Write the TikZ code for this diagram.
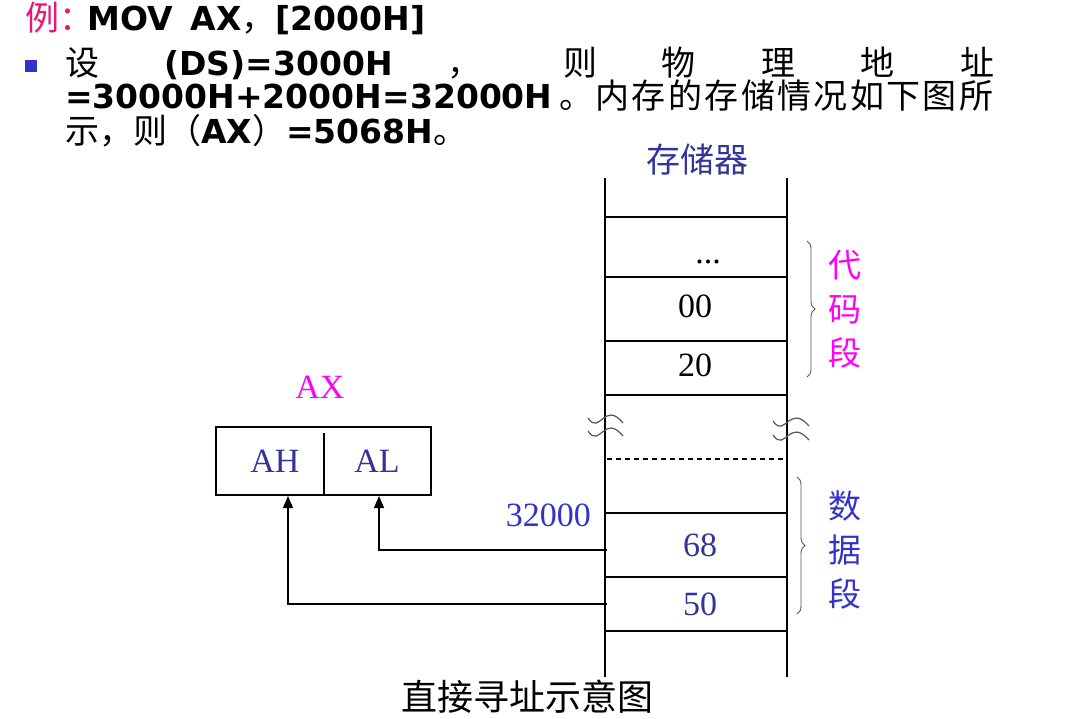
\documentclass[tikz,border=0pt]{standalone}
\usepackage{fontspec}
\setmainfont{Liberation Serif}
\newfontfamily\cjk{Noto Sans CJK SC}
\newfontfamily\cjkls{Noto Sans CJK SC}[LetterSpace=7]
\newfontfamily\sfb{DejaVu Sans}
\usetikzlibrary{arrows.meta,decorations.pathreplacing}
\definecolor{navy}{HTML}{333399}
\definecolor{blueb}{HTML}{3333CC}
\definecolor{pinkr}{HTML}{E6177A}
\definecolor{mag}{HTML}{FF00FF}
\definecolor{wavegray}{HTML}{555555}
\newcommand\bsf[1]{{\fontsize{33}{40}\selectfont\sfb\bfseries #1}}
\newcommand\zh[1]{{\fontsize{34}{40}\selectfont\cjk #1}}
\newcommand\zhls[1]{{\fontsize{34}{40}\selectfont\cjkls #1}}
\begin{document}
\begin{tikzpicture}[x=1pt,y=-1pt,
  txt/.style={anchor=base west, inner sep=0pt},
  lbl/.style={font=\fontsize{34}{40}\selectfont, inner sep=0pt},
  zhlbl/.style={font=\fontsize{33}{44}\selectfont\cjk, inner sep=0pt, align=center},
  ln/.style={line width=1.3pt},
  arr/.style={line width=1.1pt, -{Triangle[length=12pt,width=10pt]}},
  brc/.style={decorate, decoration={brace, amplitude=8pt}, draw=wavegray, line width=0.9pt},
  wav/.style={draw=wavegray, line width=1.2pt}]
\useasboundingbox (0,0) rectangle (1070,718);

% ---- text block ----
\node[txt] (l1) at (25,30) {\zh{\color{pinkr}例：}\hspace{-6pt}\bsf{MOV}\hspace{18pt}\bsf{AX}\zh{，}\bsf{[2000H]}};

\node[fill=blueb, minimum size=12pt, inner sep=0pt] (bul) at (31,66) {};
\node[txt] (l2a) at (65,75) {\zh{设}};
\node[txt] (l2b) at (164,75) {\bsf{(DS)=3000H}};
\node[txt] (l2c) at (447,75) {\zh{，}};
\node[txt] (l2d) at (563,75) {\zh{则}};
\node[txt] (l2e) at (661,75) {\zh{物}};
\node[txt] (l2f) at (761,75) {\zh{理}};
\node[txt] (l2g) at (860,75) {\zh{地}};
\node[txt] (l2h) at (960,75) {\zh{址}};

\node[txt] (l3a) at (65,108) {\bsf{=30000H+2000H=32000H}};
\node[txt] (l3b) at (559,108) {\zhls{。内存的存储情况如下图所}};

\node[txt] (l4) at (65,143) {\zh{示，则（}\bsf{AX}\zh{）}\bsf{=5068H}\zh{。}};

% ---- memory ----
\node[font=\fontsize{34}{40}\selectfont\cjk, inner sep=0pt, text=navy] (memt) at (697,160) {存储器};
\draw[ln] (605,178) -- (605,677);
\draw[ln] (787,178) -- (787,677);
\foreach \yy in {217,277,341,395,513,577,631}
  \draw[ln] (605,\yy) -- (787,\yy);
\draw[ln, dash pattern=on 5pt off 4pt] (607,459) -- (785,459);

\node[lbl, anchor=base] (cdots) at (708,263) {...};
\node[lbl] (c00) at (695,306) {00};
\node[lbl] (c20) at (695,365) {20};
\node[lbl, text=navy] (c68) at (700,545) {68};
\node[lbl, text=navy] (c50) at (700,604) {50};
\node[lbl, text=blueb, anchor=base east] (addr) at (591,526) {32000};

% breaks
\draw[wav] (588,418) .. controls (600,436) and (604,400) .. (623,423);
\draw[wav] (588,431) .. controls (600,449) and (604,413) .. (623,436);
\draw[wav] (773,421) .. controls (785,439) and (789,403) .. (809,426);
\draw[wav] (773,435) .. controls (785,453) and (789,417) .. (809,440);

% braces
\draw[brc] (807,241) -- (807,377);
\node[zhlbl, text=mag] (code) at (845,309) {代\\码\\段};
\draw[brc] (797,477) -- (797,614);
\node[zhlbl, text=blueb] (data) at (845,550) {数\\据\\段};

% ---- register ----
\node[lbl, text=mag, anchor=base] (axl) at (320,398) {AX};
\node[draw, line width=1.2pt, minimum width=215pt, minimum height=68pt, inner sep=0pt] (reg) at (323.5,461) {};
\draw[line width=1.2pt] (324,433) -- (324,495);
\node[lbl, text=navy, anchor=base] (ah) at (275,472) {AH};
\node[lbl, text=navy, anchor=base] (al) at (377,472) {AL};

\coordinate (alin) at (379,496);
\coordinate (ahin) at (288,496);
\coordinate (s68) at (607,550);
\coordinate (s50) at (607,604);
\draw[arr] (s68) -| (alin);
\draw[arr] (s50) -| (ahin);

% caption
\node[font=\fontsize{36}{40}\selectfont\cjk, inner sep=0pt] (cap) at (527,697) {直接寻址示意图};
\end{tikzpicture}
\end{document}
